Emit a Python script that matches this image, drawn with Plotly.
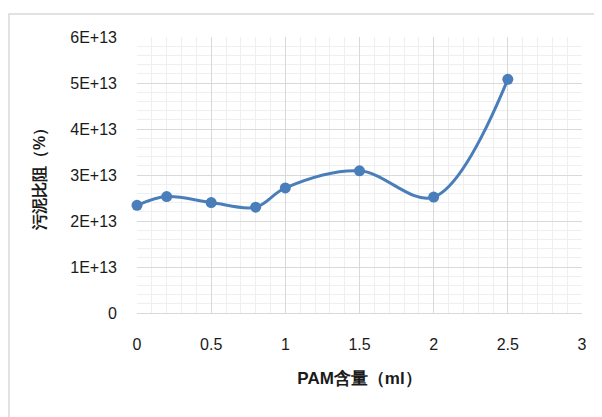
import plotly.graph_objects as go

pam_ml = [0, 0.2, 0.5, 0.8, 1.0, 1.5, 2.0, 2.5]
resistance = [2.34e13, 2.53e13, 2.40e13, 2.30e13, 2.72e13, 3.09e13, 2.52e13, 5.08e13]

x_ticks = [0, 0.5, 1, 1.5, 2, 2.5, 3]
y_ticks = [0, 1e13, 2e13, 3e13, 4e13, 5e13, 6e13]
y_labels = ["0", "1E+13", "2E+13", "3E+13", "4E+13", "5E+13", "6E+13"]

blue = "#4A7EBB"
font = "Liberation Sans, Arial, sans-serif"

fig = go.Figure()
fig.add_trace(go.Scatter(
    x=pam_ml, y=resistance, mode="lines+markers",
    line=dict(color=blue, width=3, shape="spline", smoothing=1.0),
    marker=dict(color=blue, size=11),
    showlegend=False, cliponaxis=False,
))

fig.update_layout(
    width=594, height=409,
    margin=dict(l=129, r=20, t=29, b=104, autoexpand=False),
    paper_bgcolor="white", plot_bgcolor="white",
    font=dict(family=font, size=16, color="#1a1a1a"),
    xaxis=dict(
        range=[0, 3], tickvals=x_ticks, ticktext=[str(v) for v in x_ticks],
        showgrid=True, gridcolor="#d9d9d9", gridwidth=1,
        minor=dict(dtick=0.1, showgrid=True, gridcolor="#efefef", gridwidth=1),
        zeroline=False, showline=True, linecolor="#d9d9d9", linewidth=1, mirror=False,
        ticks="", ticklabelstandoff=17, automargin=False,
        title=dict(text="<b>PAM含量（ml）</b>", font=dict(family=font, size=17, color="#1a1a1a"), standoff=19),
    ),
    yaxis=dict(
        range=[0, 6e13], tickvals=y_ticks, ticktext=y_labels,
        showgrid=True, gridcolor="#d9d9d9", gridwidth=1,
        minor=dict(dtick=2e12, showgrid=True, gridcolor="#efefef", gridwidth=1),
        zeroline=False, showline=False,
        ticks="", ticklabelstandoff=19, automargin=False,
        title=dict(text="<b>污泥比阻（%）</b>", font=dict(family=font, size=16, color="#1a1a1a"), standoff=20),
    ),
    shapes=[dict(type="rect", xref="paper", yref="paper",
                 x0=-128 / 445, x1=1.2, y0=-0.5, y1=1.083,
                 line=dict(color="#d9d9d9", width=1.5), layer="below")],
)

fig.write_html("out.html")
